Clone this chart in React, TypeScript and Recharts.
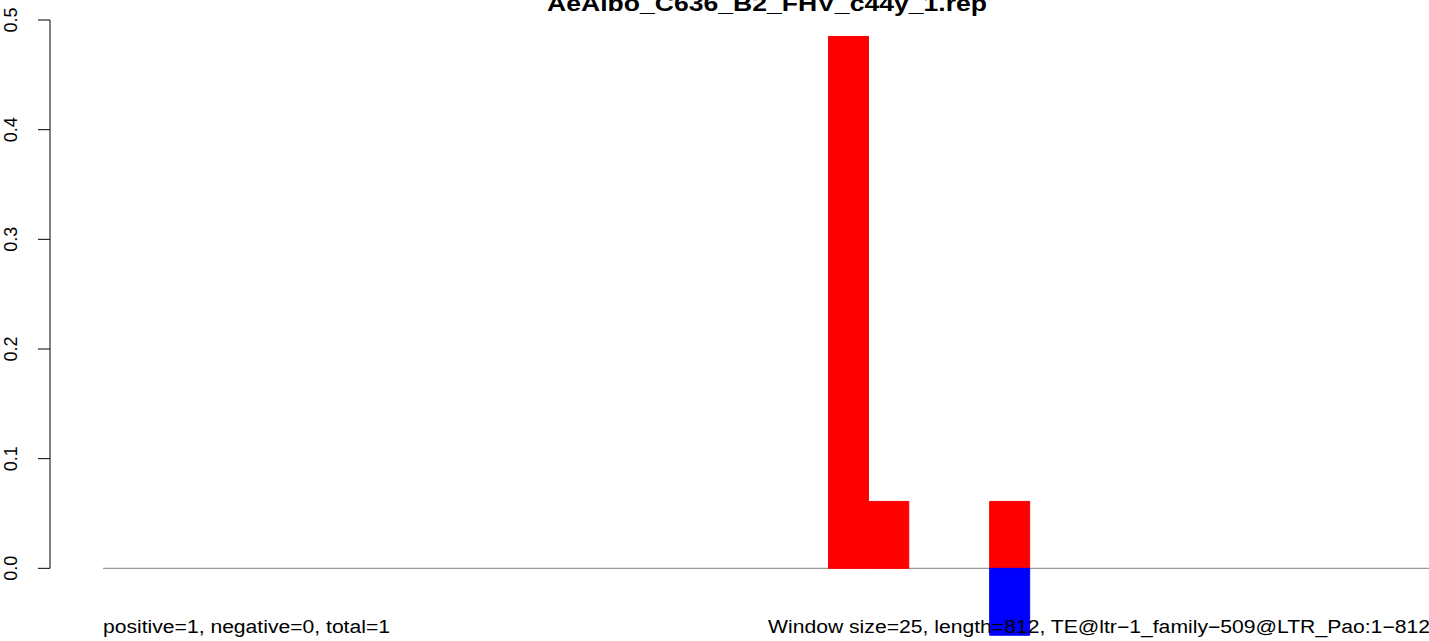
import React from 'react';
import { BarChart, Bar, XAxis, YAxis, ReferenceLine } from 'recharts';

// one entry per 25-bp window along the 812-bp element
const windows = [
    1, 2, 3, 4, 5, 6, 7, 8, 9, 10, 11, 12, 13, 14, 15, 16, 17,
    18, 19, 20, 21, 22, 23, 24, 25, 26, 27, 28, 29, 30, 31, 32, 33,
];
const positiveValues = [
    0, 0, 0, 0, 0, 0, 0, 0, 0, 0, 0, 0, 0, 0, 0, 0, 0, 0,
    0.485, 0.061, 0, 0, 0.061,
    0, 0, 0, 0, 0, 0, 0, 0, 0, 0,
];
const negativeValues = [
    0, 0, 0, 0, 0, 0, 0, 0, 0, 0, 0, 0, 0, 0, 0, 0, 0, 0,
    0, 0, 0, 0, -0.061,
    0, 0, 0, 0, 0, 0, 0, 0, 0, 0,
];
const yTicks = [0, 0.1, 0.2, 0.3, 0.4, 0.5];
const yTickLabels = ['0.0', '0.1', '0.2', '0.3', '0.4', '0.5'];

const title = 'AeAlbo_C636_B2_FHV_c44y_1.rep';
const countsText = 'positive=1, negative=0, total=1';
const infoText = 'Window size=25, length=812, TE@ltr\u22121_family\u2212509@LTR_Pao:1\u2212812';

const FONT = '"Liberation Sans", Arial, sans-serif';
const X_DOMAIN: [number, number] = [-1.315, 32.9];
const Y_DOMAIN: [number, number] = [-0.07, 0.5];

const rows = windows.map((w, i) => ({
    x: w - 0.5,
    pos: positiveValues[i],
    neg: negativeValues[i],
}));

const RotatedTick = (props: any) => {
    const { x, y, payload } = props;
    const idx = yTicks.indexOf(payload.value);
    return (
        <text
            x={x}
            y={y}
            transform={`rotate(-90, ${x}, ${y})`}
            textAnchor="middle"
            fontSize={18}
            fontFamily={FONT}
            fill="#000"
        >
            {idx >= 0 ? yTickLabels[idx] : payload.value}
        </text>
    );
};

export default function App() {
    // zero line sits under the bars, like abline drawn before barplot
    const refProps: any = { zIndex: 100 };
    return (
        <div style={{ position: 'relative', width: 1429, height: 641, overflow: 'hidden', background: '#fff' }}>
            <style>{'body{margin:0}'}</style>
            <BarChart
                width={1429}
                height={646}
                data={rows}
                stackOffset="sign"
                barCategoryGap={0}
                margin={{ top: 20, right: 0, bottom: 0.9, left: 0 }}
            >
                <XAxis type="number" dataKey="x" domain={X_DOMAIN} allowDataOverflow hide />
                <YAxis
                    width={50}
                    domain={Y_DOMAIN}
                    allowDataOverflow
                    ticks={yTicks}
                    interval={0}
                    axisLine={false}
                    tickSize={12}
                    tickMargin={21}
                    tickLine={{ stroke: '#000', strokeWidth: 1 }}
                    tick={<RotatedTick />}
                />
                <ReferenceLine
                    {...refProps}
                    segment={[{ x: 0, y: 0 }, { x: X_DOMAIN[1], y: 0 }]}
                    stroke="#999"
                    strokeWidth={1.3}
                    ifOverflow="visible"
                />
                <ReferenceLine
                    segment={[{ x: X_DOMAIN[0], y: 0 }, { x: X_DOMAIN[0], y: 0.5 }]}
                    stroke="#000"
                    strokeWidth={1}
                    ifOverflow="visible"
                />
                <Bar dataKey="pos" stackId="w" fill="#ff0000" stroke="#ff0000" strokeWidth={1} barSize={40} isAnimationActive={false} />
                <Bar dataKey="neg" stackId="w" fill="#0000ff" stroke="#0000ff" strokeWidth={1} barSize={40} isAnimationActive={false} />
            </BarChart>
            <svg
                width={1429}
                height={641}
                style={{ position: 'absolute', left: 0, top: 0, pointerEvents: 'none' }}
            >
                <text
                    x={767}
                    y={11}
                    textAnchor="middle"
                    fontSize={22}
                    fontWeight="bold"
                    fontFamily={FONT}
                    textLength={440}
                    lengthAdjust="spacingAndGlyphs"
                    fill="#000"
                >
                    {title}
                </text>
                <text
                    x={103}
                    y={633}
                    fontSize={18}
                    fontFamily={FONT}
                    textLength={287}
                    lengthAdjust="spacingAndGlyphs"
                    fill="#000"
                >
                    {countsText}
                </text>
                <text
                    x={768}
                    y={633}
                    fontSize={18}
                    fontFamily={FONT}
                    textLength={662}
                    lengthAdjust="spacingAndGlyphs"
                    fill="#000"
                >
                    {infoText}
                </text>
            </svg>
        </div>
    );
}
